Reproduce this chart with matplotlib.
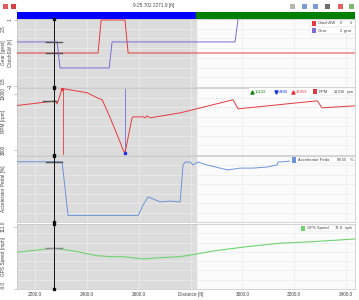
import numpy as np
import matplotlib.pyplot as plt
from matplotlib.patches import Rectangle

plt.rcParams["font.family"] = ["Liberation Sans", "DejaVu Sans"]

W, H = 359, 300

# cursor position / readouts
cursor_d = 2271.9
cursor_time = "9:25.702"

# Gear / ClutchSW channel
gear_d = [2130, 2285, 2296, 2486, 2497, 2972, 2985, 3435]
gear_v = [2, 2, 1, 1, 2, 2, 3, 3]
clutch_d = [2130, 2443, 2455, 2547, 2559, 3435]
clutch_v = [0, 0, 1, 1, 0, 0]

# RPM channel
rpm_d = [2130, 2270, 2277, 2285, 2293, 2304, 2401, 2439, 2459, 2490, 2517, 2540,
         2547, 2574, 2578, 2617, 2625, 2632, 2644, 2760, 2964, 2984, 3289, 3308, 3435]
rpm_v = [10930, 11706, 11750, 11240, 12310, 13959, 13200, 12310, 11950, 8730, 5690, 3000,
         2480, 8730, 8910, 8910, 8730, 9090, 8730, 9625, 11950, 10340, 11770, 10520, 10880]
rpm_avg, rpm_min, rpm_max = 10192, 2480, 13959

# Accelerator pedal channel
ped_d = [2130, 2304, 2327, 2598, 2617, 2636, 2655, 2683, 2721, 2760, 2771, 2779, 2798,
         2810, 2829, 2864, 2914, 2945, 2991, 3041, 3096, 3134, 3138, 3196, 3435]
ped_v = [98.55, 98.55, 1, 1, 20, 34.5, 31, 25.5, 27, 25.5, 92.7, 98, 98,
         92.7, 98, 92.7, 87, 83.6, 87, 87, 89, 92.7, 98, 100, 100]

# GPS speed channel
gps_d = [2130, 2272, 2296, 2362, 2439, 2490, 2540, 2617, 2683, 2760, 2818, 2887, 3018, 3146, 3273, 3435]
gps_v = [65.5, 72.8, 71.5, 66.7, 59.5, 57.7, 57.7, 53.6, 55.9, 57.7, 62.0, 67.8, 75.6, 81.7, 84.5, 89.3]

xticks = [2200, 2400, 2600, 2800, 3000, 3200, 3400]
xticklabels = ["2200.0", "2400.0", "2600.0", "Distance [ft]", "3000.0", "3200.0", "3400.0"]
xlim = (2130, 3435)
shade_end = 2821

RED = "#e43a3f"
PURPLE = "#7c6bd2"
BLUE = "#6c93d8"
GREEN = "#6fd36f"
TXT = "#444444"
FS = 3.4
FSL = 3.0
L, R = 17, 355

fig = plt.figure(figsize=(W / 100, H / 100), dpi=100)


def ax_px(left, top, right, bottom):
    return fig.add_axes([left / W, 1 - bottom / H, (right - left) / W, (bottom - top) / H])


def fx(px):
    return (px - L) / (R - L)


def style(ax, pad=6):
    ax.set_xlim(*xlim)
    ax.set_facecolor("#fbfbfb")
    ax.axvspan(xlim[0], shade_end, color="#dcdcdc", zorder=0)
    for s in ax.spines.values():
        s.set_color("#c4c4c4")
        s.set_linewidth(0.5)
    ax.set_xticks(xticks)
    ax.tick_params(axis="x", length=0, labelbottom=False)
    ax.tick_params(axis="y", length=2, width=0.4, colors="#999999", labelsize=FS,
                   labelcolor=TXT, pad=pad)
    for lab in ax.get_yticklabels():
        lab.set_rotation(90)
        lab.set_va("center")
    ax.grid(True, axis="x", color="#ececec", lw=0.5)
    ax.axvline(cursor_d, color="#111111", lw=0.7, zorder=5)
    ax.plot([cursor_d, cursor_d], [0, 1], transform=ax.get_xaxis_transform(),
            ls="none", marker="s", ms=2, color="#111111", clip_on=False, zorder=6)


def ylab(ax, text, right_px):
    ax.set_ylabel(text, fontsize=FS, color=TXT)
    ax.yaxis.set_label_coords(fx(right_px), 0.5)


def hgrid(ax, lo, hi, n=6):
    for v in np.linspace(lo, hi, n + 2)[1:-1]:
        ax.axhline(v, color="#ececec", lw=0.5, zorder=0.5)


def legend_row(ax, yf, sq_px, color, items):
    # items: (text, x_px, ha, colour)
    ax.add_patch(Rectangle((fx(sq_px - 2), yf - 0.05), fx(R) - fx(sq_px - 2), 0.1,
                           transform=ax.transAxes, facecolor="white",
                           edgecolor="#dddddd", lw=0.3, zorder=7, clip_on=False))
    ax.add_patch(Rectangle((fx(sq_px), yf - 0.04), 4 / (R - L), 0.08, transform=ax.transAxes,
                           facecolor=color, edgecolor="none", zorder=8, clip_on=False))
    for t, xp, ha, c in items:
        ax.text(fx(xp), yf, t, transform=ax.transAxes, fontsize=FSL, color=c,
                va="center", ha=ha, zorder=9)


# top bar: time / distance readout
fig.text(154 / W, 1 - 6 / H, f"{cursor_time} {cursor_d} [ft]", fontsize=FS, color=TXT,
         ha="center", va="center")
for xi, col in zip([3, 11, 290, 302, 313, 325, 338, 349],
                   ["#e04040", "#d02020", "#aaaaaa", "#6688cc", "#6688cc", "#555555",
                    "#dd4444", "#66aa55"]):
    fig.patches.append(Rectangle((xi / W, 1 - 9 / H), 5 / W, 5 / H, transform=fig.transFigure,
                                 facecolor=col, edgecolor="none", alpha=0.85))

# lap colour bar
axb = ax_px(L, 12, R, 19)
axb.set_xlim(*xlim)
axb.axvspan(xlim[0], shade_end, color="#0000ff")
axb.axvspan(shade_end, xlim[1], color="#008000")
axb.set_xticks([])
axb.set_yticks([])
for s in axb.spines.values():
    s.set_visible(False)

# panel 1: ClutchSW + Gear
ax1 = ax_px(L, 19, R, 87)
ax1.set_ylim(-1.03, 1.03)
ax1.set_yticks([-1, 1])
style(ax1, pad=1)
hgrid(ax1, -1.03, 1.03)
ax1.plot(clutch_d, clutch_v, color=RED, lw=0.7, zorder=3)
ax1.plot([cursor_d - 30, cursor_d + 30], [0, 0], color="#555555", lw=1, zorder=4)
ylab(ax1, "ClutchSW [#]", 13)
ax1g = ax1.twinx()
ax1g.set_ylim(0.27, 2.88)
ax1g.set_yticks([0.5, 2.5])
ax1g.yaxis.tick_left()
for s in ax1g.spines.values():
    s.set_visible(False)
ax1g.tick_params(axis="y", length=0, labelsize=FS, labelcolor=TXT, pad=8)
for lab in ax1g.get_yticklabels():
    lab.set_rotation(90)
    lab.set_va("center")
ax1g.yaxis.set_label_position("left")
ylab(ax1g, "Gear [gear]", 6)
ax1g.plot(gear_d, gear_v, color=PURPLE, lw=0.7, zorder=3)
ax1g.plot([cursor_d - 30, cursor_d + 30], [2, 2], color="#555555", lw=1, zorder=4)
legend_row(ax1, 0.935, 312, RED, [("ClutchSW", 318, "left", TXT), ("0", 342, "right", TXT),
                                  ("#", 350, "left", TXT)])
legend_row(ax1, 0.83, 312, PURPLE, [("Gear", 318, "left", TXT), ("2", 342, "right", TXT),
                                    ("gear", 344, "left", TXT)])

# panel 2: RPM
ax2 = ax_px(L, 88, R, 155)
ax2.set_ylim(2124, 14048)
ax2.set_yticks([3000, 13000])
style(ax2)
hgrid(ax2, 2124, 14048)
ax2.plot(rpm_d, rpm_v, color=RED, lw=0.7, zorder=3)
d_max = rpm_d[int(np.argmax(rpm_v))]
d_min = rpm_d[int(np.argmin(rpm_v))]
ax2.vlines(d_max + 4, 2124, rpm_max, color=RED, lw=0.6, zorder=2)
ax2.vlines(d_min, rpm_min, 14048, color="#6f6fe0", lw=0.6, zorder=2)
ax2.plot(d_max, rpm_max, "s", color=RED, ms=1.8, zorder=4)
ax2.plot(d_min, rpm_min, "s", color="#2233dd", ms=1.8, zorder=4)
ax2.plot([cursor_d - 40, cursor_d + 10], [11706, 11706], color="#555555", lw=1, zorder=4)
ylab(ax2, "RPM [rpm]", 6)
legend_row(ax2, 0.945, 313, RED, [("RPM", 319, "left", TXT), ("11706", 345, "right", TXT),
                                  ("rpm", 347, "left", TXT)])
for xp, c, mk, v in [(251, "#1a8a1a", "^", rpm_avg), (275, "#1a3adf", "v", rpm_min),
                     (292, "#e43a3f", "^", rpm_max)]:
    ax2.add_patch(Rectangle((fx(xp - 2), 0.895), fx(312) - fx(xp - 2), 0.1,
                            transform=ax2.transAxes, facecolor="white", edgecolor="none",
                            zorder=7))
    ax2.plot(fx(xp + 1), 0.945, mk, transform=ax2.transAxes, color=c, ms=2.3, zorder=9)
    ax2.text(fx(xp + 4), 0.945, str(v), transform=ax2.transAxes, fontsize=FSL, color=c,
             va="center", ha="left", zorder=9)

# panel 3: Accelerator pedal
ax3 = ax_px(L, 156, R, 222)
ax3.set_ylim(-11, 109)
ax3.set_yticks([])
style(ax3)
hgrid(ax3, -11, 109)
ax3.plot(ped_d, ped_v, color=BLUE, lw=0.7, zorder=3)
ax3.plot([cursor_d - 30, cursor_d + 30], [98.55, 98.55], color="#555555", lw=1, zorder=4)
ylab(ax3, "Accelerator Pedal [%]", 6)
legend_row(ax3, 0.94, 292, BLUE, [("Accelerator Peda", 298, "left", TXT),
                                  ("98.55", 347, "right", TXT), ("%", 350, "left", TXT)])

# panel 4: GPS speed
ax4 = ax_px(L, 224, R, 289)
ax4.set_ylim(0, 116)
ax4.set_yticks([0, 111])
ax4.set_yticklabels(["-0.0", "111.0"])
style(ax4)
ax4.get_yticklabels()[0].set_va("bottom")
hgrid(ax4, 0, 116)
ax4.plot(gps_d, gps_v, color=GREEN, lw=0.8, zorder=3)
ax4.plot([cursor_d - 30, cursor_d + 30], [72.8, 72.8], color="#888888", lw=1, zorder=4)
ylab(ax4, "GPS Speed [mph]", 6)
legend_row(ax4, 0.935, 301, GREEN, [("GPS Speed", 307, "left", TXT),
                                    ("72.8", 343, "right", TXT), ("mph", 345, "left", TXT)])
ax4.tick_params(axis="x", labelbottom=True, labelsize=FS, labelcolor=TXT, pad=2)
ax4.set_xticklabels(xticklabels)

fig.savefig("out.png", dpi=100)
